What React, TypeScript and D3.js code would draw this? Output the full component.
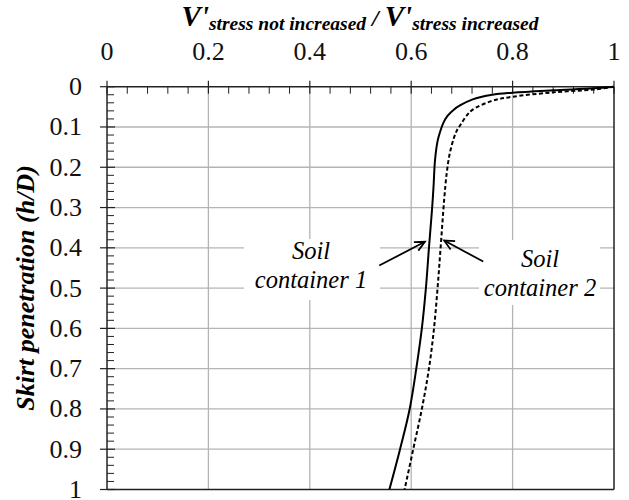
import React from "react";
import * as d3 from "d3";

// soil container 1 (solid line)
const depth1 = [0, 0.004, 0.009, 0.015, 0.02, 0.032, 0.046, 0.057, 0.072, 0.091, 0.112, 0.135, 0.182, 0.249, 0.306, 0.4, 0.5, 0.6, 0.7, 0.8, 0.9, 1.0];
const ratio1 = [1.0, 0.96, 0.88, 0.8, 0.76, 0.72, 0.697, 0.684, 0.672, 0.663, 0.657, 0.652, 0.647, 0.644, 0.641, 0.635, 0.629, 0.621, 0.61, 0.597, 0.578, 0.557];

// soil container 2 (dashed line)
const depth2 = [0, 0.007, 0.014, 0.025, 0.035, 0.058, 0.074, 0.095, 0.109, 0.128, 0.166, 0.215, 0.281, 0.4, 0.5, 0.6, 0.7, 0.8, 0.9, 1.0];
const ratio2 = [1.0, 0.96, 0.88, 0.8, 0.76, 0.72, 0.708, 0.697, 0.69, 0.684, 0.676, 0.67, 0.665, 0.658, 0.652, 0.645, 0.635, 0.621, 0.604, 0.587];

const xTickLabels = ["0", "0.2", "0.4", "0.6", "0.8", "1"];
const yTickLabels = ["0", "0.1", "0.2", "0.3", "0.4", "0.5", "0.6", "0.7", "0.8", "0.9", "1"];

const font = { fontFamily: '"Liberation Serif", "Tinos", serif' };

export default function App() {
    const width = 629, height = 500;
    const left = 107, right = 614, top = 86.7, bottom = 489.5;

    const x = d3.scaleLinear().domain([0, 1]).range([left, right]);
    const y = d3.scaleLinear().domain([0, 1]).range([top, bottom]);

    const line = d3.line<[number, number]>()
        .x(d => x(d[0]))
        .y(d => y(d[1]))
        .curve(d3.curveCatmullRom.alpha(0.5));

    const pts1 = depth1.map((h, i) => [ratio1[i], h] as [number, number]);
    const pts2 = depth2.map((h, i) => [ratio2[i], h] as [number, number]);

    const xMajor = xTickLabels.map(Number);
    const yMajor = yTickLabels.map(Number);
    const xMinor = d3.range(1, 25).map(i => i * 0.04).filter(v => Math.abs(v * 5 - Math.round(v * 5)) > 1e-6);
    const yMinor = d3.range(1, 50).map(i => i * 0.02).filter(v => Math.abs(v * 10 - Math.round(v * 10)) > 1e-6);

    const grid = "#b4b4b4";
    const axisCol = "#222";

    // annotation arrows, tail -> tip in data units
    const arrows = [
        { x1: 0.537, y1: 0.444, x2: 0.627, y2: 0.385 },
        { x1: 0.742, y1: 0.434, x2: 0.665, y2: 0.382 },
    ];

    const arrowHead = (a: typeof arrows[0]) => {
        const tx = x(a.x2), ty = y(a.y2);
        const ang = Math.atan2(ty - y(a.y1), tx - x(a.x1));
        const len = 11, spread = 0.45;
        const p1 = [tx - len * Math.cos(ang - spread), ty - len * Math.sin(ang - spread)];
        const p2 = [tx - len * Math.cos(ang + spread), ty - len * Math.sin(ang + spread)];
        return `M${p1[0]},${p1[1]}L${tx},${ty}L${p2[0]},${p2[1]}`;
    };

    return (
        <svg width={width} height={height} style={{ position: "absolute", left: 0, top: 0, background: "#fff" }}>
            {/* grid */}
            {xMajor.slice(1, -1).map(v => (
                <line key={"gx" + v} x1={x(v)} x2={x(v)} y1={top} y2={bottom} stroke={grid} strokeWidth={1.3} />
            ))}
            {yMajor.slice(1, -1).map(v => (
                <line key={"gy" + v} x1={left} x2={right} y1={y(v)} y2={y(v)} stroke={grid} strokeWidth={1.3} />
            ))}

            {/* white boxes behind annotation text */}
            <rect x={244} y={239} width={136} height={61} fill="#fff" />
            <rect x={479} y={240} width={121} height={65} fill="#fff" />

            {/* frame */}
            <line x1={left} x2={right} y1={top} y2={top} stroke={axisCol} strokeWidth={1.5} />
            <line x1={left} x2={left} y1={top} y2={bottom} stroke={axisCol} strokeWidth={1.5} />
            <line x1={right} x2={right} y1={top} y2={bottom} stroke={axisCol} strokeWidth={1.5} />
            <line x1={left} x2={right} y1={bottom} y2={bottom} stroke={axisCol} strokeWidth={1.5} />

            {/* ticks */}
            {xMajor.map(v => (
                <line key={"tx" + v} x1={x(v)} x2={x(v)} y1={top - 6} y2={top + 7} stroke={axisCol} strokeWidth={1.2} />
            ))}
            {xMinor.map(v => (
                <line key={"mx" + v} x1={x(v)} x2={x(v)} y1={top} y2={top + 7} stroke={axisCol} strokeWidth={1} />
            ))}
            {yMajor.map(v => (
                <line key={"ty" + v} x1={left - 7} x2={left + 8} y1={y(v)} y2={y(v)} stroke={axisCol} strokeWidth={1.2} />
            ))}
            {yMinor.map(v => (
                <line key={"my" + v} x1={left} x2={left + 7} y1={y(v)} y2={y(v)} stroke={axisCol} strokeWidth={1} />
            ))}

            {/* tick labels */}
            {xTickLabels.map((t, i) => (
                <text key={"lx" + t} x={x(xMajor[i])} y={60} textAnchor="middle" style={font} fontSize={26} fill="#111">{t}</text>
            ))}
            {yTickLabels.map((t, i) => (
                <text key={"ly" + t} x={82} y={y(yMajor[i]) + 8.5} textAnchor="end" style={font} fontSize={26} fill="#111">{t}</text>
            ))}

            {/* curves */}
            <path d={line(pts1) || ""} fill="none" stroke="#000" strokeWidth={2} />
            <path d={line(pts2) || ""} fill="none" stroke="#000" strokeWidth={2} strokeDasharray="4,2.5" />

            {/* arrows */}
            {arrows.map((a, i) => (
                <g key={"ar" + i} stroke="#000" strokeWidth={1.8} fill="none">
                    <line x1={x(a.x1)} y1={y(a.y1)} x2={x(a.x2)} y2={y(a.y2)} />
                    <path d={arrowHead(a)} />
                </g>
            ))}

            {/* annotations */}
            <g style={font} fontStyle="italic" fontSize={24.5} textAnchor="middle" fill="#000">
                <text x={311} y={259}>Soil</text>
                <text x={311} y={288}>container 1</text>
                <text x={540} y={267}>Soil</text>
                <text x={540} y={296}>container 2</text>
            </g>

            {/* top title */}
            <text x={360} y={26} textAnchor="middle" style={font} fontStyle="italic" fontWeight="bold" fill="#000">
                <tspan fontSize={29}>V'</tspan>
                <tspan fontSize={19.5} dy={4}>stress not increased</tspan>
                <tspan fontSize={24} dy={-4}> / </tspan>
                <tspan fontSize={29}>V'</tspan>
                <tspan fontSize={19.5} dy={4}>stress increased</tspan>
            </text>

            {/* y title */}
            <text transform="translate(34,288) rotate(-90)" textAnchor="middle" style={font} fontStyle="italic" fontWeight="bold" fontSize={26} fill="#000">
                Skirt penetration (h/D)
            </text>
        </svg>
    );
}
